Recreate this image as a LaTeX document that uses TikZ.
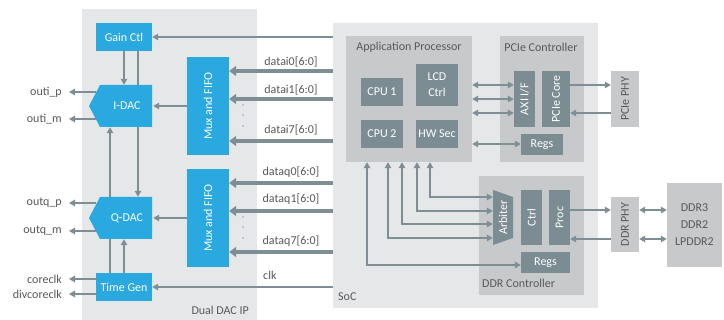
\documentclass[tikz,border=0pt]{standalone}
\usepackage{fontspec}
\setmainfont{Carlito}
\usepackage{graphicx}
\usetikzlibrary{arrows.meta,calc}
\definecolor{dacblue}{HTML}{29A9E0}
\definecolor{bglight}{HTML}{E6E7E8}
\definecolor{midgray}{HTML}{C8C9CB}
\definecolor{slate}{HTML}{7B8C93}
\definecolor{wirec}{HTML}{7E8E95}
\definecolor{txt}{HTML}{58595B}
\pgfdeclarelayer{bg}
\pgfdeclarelayer{mid}
\pgfsetlayers{bg,mid,main}
\tikzset{
  bluebox/.style={fill=dacblue,text=white,inner sep=0pt,align=center},
  slatebox/.style={fill=slate,text=white,inner sep=0pt,align=center},
  graybox/.style={fill=midgray,text=txt,inner sep=0pt,align=center},
  region/.style={fill=bglight,inner sep=0pt},
  ttl/.style={text=txt,inner sep=0pt},
  lbl/.style={text=txt,inner ysep=0pt,inner xsep=7pt},
  wire/.style={draw=wirec,line width=1.3pt,-{Triangle[length=6pt,width=6.5pt]}},
  wiretwo/.style={draw=wirec,line width=1.3pt,{Triangle[length=6pt,width=6.5pt]}-{Triangle[length=6pt,width=6.5pt]}},
  plainwire/.style={draw=wirec,line width=1.3pt},
  bus/.style={draw=wirec,line width=3.2pt,-{Triangle[length=7pt,width=10pt]}},
}
\begin{document}
\begin{tikzpicture}[x=1pt,y=-1pt,font=\fontsize{12}{14}\selectfont]
\useasboundingbox (0,0) rectangle (724,320);

\begin{pgfonlayer}{bg}
\fill[white] (0,0) rectangle (724,320);
\node[region,minimum width=175,minimum height=311] (dacip) at (169.5,164.5) {};
\node[region,minimum width=265,minimum height=285] (soc) at (465.5,165.5) {};
\node[graybox,minimum width=126,minimum height=126] (ap) at (409,99) {};
\node[graybox,minimum width=84,minimum height=126] (pcie) at (542,99) {};
\node[graybox,minimum width=105,minimum height=119] (ddrc) at (531.5,235.5) {};
\end{pgfonlayer}

% titles
\node[ttl] (aptitle) at (409,47) {Application Processor};
\node[ttl] (pcietitle) at (541,47) {PCIe Controller};
\node[ttl,anchor=west] (ddrctitle) at (482,283) {DDR Controller};
\node[ttl,anchor=west] (soctitle) at (338,297) {SoC};
\node[ttl,anchor=east] (dactitle) at (249,310) {Dual DAC IP};

% DAC side blocks
\node[bluebox,minimum width=56,minimum height=28] (gain) at (124,37) {Gain Ctl};
\fill[dacblue] (152,85) -- (100,85) -- (89,106) -- (100,127) -- (152,127) -- cycle;
\node[text=white,inner sep=0pt,minimum width=52,minimum height=42] (idac) at (127,106) {I-DAC};
\fill[dacblue] (152,197) -- (100,197) -- (89,218) -- (100,239) -- (152,239) -- cycle;
\node[text=white,inner sep=0pt,minimum width=52,minimum height=42] (qdac) at (127,218) {Q-DAC};
\node[bluebox,minimum width=56,minimum height=28] (tg) at (124,287) {Time Gen};
\node[bluebox,minimum width=42,minimum height=98] (mux1) at (208,106) {\rotatebox{90}{Mux and FIFO}};
\node[bluebox,minimum width=42,minimum height=98] (mux2) at (208,218) {\rotatebox{90}{Mux and FIFO}};

% SoC inner blocks
\node[slatebox,minimum width=42,minimum height=28] (cpu1) at (382,92) {CPU 1};
\node[slatebox,minimum width=42,minimum height=42,font=\fontsize{12}{16}\selectfont] (lcd) at (437,85) {LCD\\Ctrl};
\node[slatebox,minimum width=42,minimum height=28] (cpu2) at (382,134) {CPU 2};
\node[slatebox,minimum width=42,minimum height=28] (hwsec) at (437,134) {HW Sec};
\node[slatebox,minimum width=21,minimum height=56] (axi) at (524.5,99) {\rotatebox{90}{AXI I/F}};
\node[slatebox,minimum width=28,minimum height=56] (pcore) at (556,99) {\rotatebox{90}{PCIe Core}};
\node[slatebox,minimum width=42,minimum height=21] (pregs) at (542,144.5) {Regs};
\node[graybox,minimum width=28,minimum height=56] (pphy) at (625,99) {\rotatebox{90}{PCIe PHY}};
\fill[slate] (493,190) -- (513,197) -- (513,238) -- (493,245) -- cycle;
\node[text=white,inner sep=0pt,minimum width=20,minimum height=55] (arb) at (503,217.5) {\rotatebox{90}{Arbiter}};
\node[slatebox,minimum width=21,minimum height=55] (ctrl) at (531.5,217.5) {\rotatebox{90}{Ctrl}};
\node[slatebox,minimum width=21,minimum height=55] (proc) at (559.5,217.5) {\rotatebox{90}{Proc}};
\node[slatebox,minimum width=49,minimum height=21] (dregs) at (545.5,262.5) {Regs};
\node[graybox,minimum width=28,minimum height=55] (dphy) at (625,224.5) {\rotatebox{90}{DDR PHY}};
\node[graybox,minimum width=55,minimum height=84,font=\fontsize{12}{17}\selectfont] (mem) at (694.5,225) {DDR3\\DDR2\\LPDDR2};

% output labels
\node[lbl,anchor=east] (oip) at (69,92) {outi\_p};
\node[lbl,anchor=east] (oim) at (69,119) {outi\_m};
\node[lbl,anchor=east] (oqp) at (69,203) {outq\_p};
\node[lbl,anchor=east] (oqm) at (69,231) {outq\_m};
\node[lbl,anchor=east] (ock) at (69,279) {coreclk};
\node[lbl,anchor=east] (odk) at (69,294) {divcoreclk};

% bus labels
\node[ttl] (li0) at (291,62) {datai0[6:0]};
\node[ttl] (li1) at (291,90) {datai1[6:0]};
\node[ttl] (li7) at (291,130) {datai7[6:0]};
\node[ttl] (lq0) at (291,172) {dataq0[6:0]};
\node[ttl] (lq1) at (291,199) {dataq1[6:0]};
\node[ttl] (lq7) at (291,241) {dataq7[6:0]};
\node[ttl,anchor=west] (lclk) at (263,275) {clk};

% helper coordinates
\coordinate (g2) at ([xshift=14pt]gain.south);
\coordinate (t2) at ([xshift=-14pt]tg.north);
\coordinate (pip) at (96.3,92);
\coordinate (pim) at (95.8,119);
\coordinate (pqp) at (96.3,203);
\coordinate (pqm) at (95.8,231);
\coordinate (bi0) at (333,71);
\coordinate (bi1) at (333,99);
\coordinate (bi7) at (333,141);
\coordinate (bq0) at (333,183);
\coordinate (bq1) at (333,211);
\coordinate (bq7) at (333,252);
\coordinate (bclk) at (333,287);
\coordinate (y85) at (0,85);
\coordinate (y99) at (0,99);
\coordinate (y113) at (0,113);
\coordinate (y144) at (0,144);
\coordinate (y210) at (0,210);
\coordinate (y239) at (0,239);
\coordinate (d1) at (430,197);
\coordinate (d2) at (417,211);
\coordinate (d3) at (402,224);
\coordinate (d4) at (388,238);
\coordinate (d5) at (367,265);

\begin{pgfonlayer}{mid}
\draw[wire] (soc.west |- gain.east) -- (gain.east);
\draw[wire] (gain.south) -- (gain.south |- idac.north);
\draw[wire] (g2) -- (g2 |- qdac.north);
\draw[wire] (tg.north) -- (tg.north |- qdac.south);
\draw[wire] (t2) -- (t2 |- idac.south);
\draw[wire] (mux1.west) -- (idac.east);
\draw[wire] (mux2.west) -- (qdac.east);
\draw[wire] (pip) -- (oip.east);
\draw[wire] (pim) -- (oim.east);
\draw[wire] (pqp) -- (oqp.east);
\draw[wire] (pqm) -- (oqm.east);
\draw[wire] (tg.west |- ock.east) -- (ock.east);
\draw[wire] (tg.west |- odk.east) -- (odk.east);
\draw[bus] (bi0) -- (bi0 -| mux1.east);
\draw[bus] (bi1) -- (bi1 -| mux1.east);
\draw[bus] (bi7) -- (bi7 -| mux1.east);
\draw[bus] (bq0) -- (bq0 -| mux2.east);
\draw[bus] (bq1) -- (bq1 -| mux2.east);
\draw[bus] (bq7) -- (bq7 -| mux2.east);
\draw[wire] (bclk) -- (bclk -| tg.east);
\draw[wiretwo] (ap.east |- y85) -- (axi.west |- y85);
\draw[wiretwo] (ap.east |- y99) -- (axi.west |- y99);
\draw[wiretwo] (ap.east |- y113) -- (axi.west |- y113);
\draw[wiretwo] (ap.east |- y144) -- (pregs.west |- y144);
\draw[wire] (pcore.east |- y85) -- (pphy.west |- y85);
\draw[wire] (pphy.west |- y113) -- (pcore.east |- y113);
\draw[wiretwo] (ap.south -| d1) |- (arb.west |- d1);
\draw[wiretwo] (ap.south -| d2) |- (arb.west |- d2);
\draw[wiretwo] (ap.south -| d3) |- (arb.west |- d3);
\draw[wiretwo] (ap.south -| d4) |- (arb.west |- d4);
\draw[wiretwo] (ap.south -| d5) |- (dregs.west |- d5);
\draw[wire] (proc.east |- y210) -- (dphy.west |- y210);
\draw[wire] (dphy.west |- y239) -- (proc.east |- y239);
\draw[wiretwo] (dphy.east |- y210) -- (mem.west |- y210);
\draw[wiretwo] (dphy.east |- y239) -- (mem.west |- y239);
\end{pgfonlayer}

% continuation dots
\foreach \yy in {105,115,126,217,227,238} \fill[txt] (243,\yy) circle (0.7);
\end{tikzpicture}
\end{document}
